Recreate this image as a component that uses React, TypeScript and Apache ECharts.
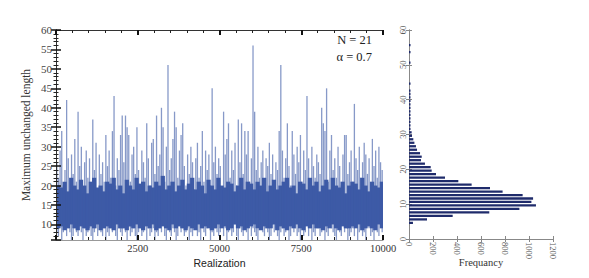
import React, { useEffect, useRef } from "react";
import * as echarts from "echarts";

// Left panel: per-block (50 realizations) maximum and minimum of the series
const blockHighs = [
  26, 22, 29, 34, 20, 24, 42, 27, 19, 28,
  23, 32, 21, 39, 25, 30, 18, 26, 29, 22,
  27, 20, 37, 24, 31, 19, 28, 23, 26, 21,
  33, 25, 29, 22, 34, 43, 20, 27, 24, 33,
  38, 26, 38, 35, 33, 21, 28, 30, 23, 35,
  24, 19, 29, 26, 22, 36, 27, 20, 31, 32,
  23, 38, 25, 28, 40, 35, 21, 30, 51, 24,
  27, 32, 39, 35, 22, 29, 33, 36, 25, 20,
  28, 23, 30, 26, 19, 27, 31, 22, 25, 34,
  21, 29, 24, 28, 20, 45, 26, 30, 23, 27,
  25, 19, 39, 28, 32, 36, 22, 29, 24, 31,
  20, 37, 26, 36, 23, 34, 28, 34, 21, 27,
  56, 39, 24, 30, 22, 26, 29, 19, 27, 25,
  31, 23, 28, 21, 26, 24, 34, 51, 29, 22,
  27, 36, 25, 20, 34, 28, 23, 30, 26, 33,
  21, 29, 24, 43, 27, 19, 30, 25, 22, 28,
  26, 23, 40, 36, 34, 45, 21, 29, 33, 24,
  27, 22, 30, 25, 20, 28, 33, 33, 23, 26,
  29, 21, 41, 27, 24, 30, 22, 26, 31, 28,
  23, 27, 20, 32, 25, 29, 22, 30, 26, 24,
];
const blockLows = [
  8, 7, 9, 6, 8, 10, 7, 9, 8, 6, 7, 9, 8, 7, 10, 8, 6, 9, 7, 8,
  9, 7, 6, 8, 9, 7, 10, 8, 7, 9, 6, 8, 7, 9, 8, 10, 7, 6, 9, 8,
  7, 9, 8, 6, 10, 7, 8, 9, 7, 6, 8, 9, 7, 8, 10, 6, 9, 7, 8, 9,
  6, 8, 7, 9, 8, 10, 7, 6, 9, 8, 7, 9, 8, 6, 7, 10, 8, 9, 7, 8,
  9, 6, 8, 7, 10, 9, 7, 8, 6, 9, 8, 7, 9, 10, 6, 8, 7, 9, 8, 7,
  8, 10, 7, 9, 6, 8, 9, 7, 8, 10, 7, 6, 9, 8, 7, 9, 8, 6, 10, 7,
  9, 8, 7, 6, 9, 10, 8, 7, 9, 8, 6, 7, 10, 8, 9, 7, 6, 8, 9, 7,
  8, 9, 6, 7, 10, 8, 9, 7, 8, 6, 9, 7, 8, 10, 7, 9, 6, 8, 7, 9,
  10, 7, 8, 9, 6, 8, 7, 10, 9, 8, 7, 6, 9, 8, 7, 10, 8, 9, 6, 7,
  8, 9, 7, 10, 6, 8, 9, 7, 8, 6, 10, 9, 7, 8, 6, 9, 8, 7, 10, 8,
];
// Dense core of the series per block of 100 realizations (top and bottom of the solid band)
const bandTops = [
  20, 19.5, 21, 18.5, 22, 20, 19, 21.5, 20, 18,
  21, 22, 19.5, 20, 18.5, 21, 20.5, 22, 19, 20,
  18, 21.5, 20, 19, 22, 20.5, 21, 18.5, 20, 19.5,
  21, 20, 22.5, 19, 20, 21, 18.5, 20, 21.5, 19,
  20.5, 22, 19, 21, 20, 18, 21.5, 20, 19, 22,
  20, 19.5, 21, 20.5, 18.5, 20, 22, 19, 21, 20.5,
  19, 21, 20, 22, 18.5, 20, 21.5, 19, 20, 21,
  22, 19.5, 20, 18, 21, 20.5, 19, 22, 20, 21,
  18.5, 20, 21.5, 19, 22, 20, 19.5, 21, 18, 20,
  21, 20.5, 19, 22, 20, 18.5, 21, 20, 19.5, 21,
];
const bandBottoms = [
  9, 9.5, 8.5, 9, 10, 9, 8.5, 9.5, 9, 8.5,
  9.5, 9, 10, 8.5, 9, 9.5, 9, 8.5, 10, 9,
  9, 8.5, 9.5, 9, 10, 9, 8.5, 9.5, 9, 10,
  8.5, 9, 9.5, 9, 8.5, 10, 9, 9.5, 9, 8.5,
  9.5, 9, 8.5, 10, 9, 9.5, 9, 8.5, 9, 10,
  9, 9.5, 8.5, 9, 10, 9, 9.5, 8.5, 9, 9.5,
  10, 9, 8.5, 9.5, 9, 9, 10, 8.5, 9.5, 9,
  8.5, 9.5, 9, 10, 9, 8.5, 9.5, 9, 10, 9,
  9, 8.5, 9.5, 9, 10, 9, 8.5, 9.5, 9, 9,
  9.5, 9, 10, 8.5, 9, 9.5, 9, 8.5, 10, 9,
];

// Right panel: histogram of the maximum unchanged length
const histLengths = [
  5, 6, 7, 8, 9, 10, 11, 12, 13, 14, 15, 16, 17, 18, 19, 20, 21, 22, 23, 24,
  25, 26, 27, 28, 29, 30, 31, 32, 33, 34, 35, 36, 37, 38, 39, 40, 41, 42, 43,
  45, 51, 54, 56,
];
const histCounts = [
  33, 150, 364, 669, 920, 1058, 1020, 1034, 947, 780, 675, 522, 411, 300, 225,
  189, 181, 133, 100, 106, 92, 67, 58, 45, 36, 25, 22, 12, 8, 6, 5, 4, 3, 3, 2,
  2, 2, 1, 1, 1, 2, 1, 1,
];

const realizationTicks = [2500, 5000, 7500, 10000];
const lengthTicks = [10, 15, 20, 25, 30, 35, 40, 45, 50, 55, 60];
const freqTicks = [0, 200, 400, 600, 800, 1000, 1200];
const histLengthTicks = [0, 10, 20, 30, 40, 50, 60];

const SERIF = "'Liberation Serif', 'DejaVu Serif', serif";
const SANS = "'Liberation Sans', Arial, sans-serif";
const BLUE = "#3e5ba7";

export default function App() {
  const ref = useRef<HTMLDivElement>(null);
  useEffect(() => {
    if (!ref.current) return;
    const chart = echarts.init(ref.current, undefined, { renderer: "svg" });
    const total = 10000;
    const step = total / blockHighs.length;
    const spikeData = blockHighs.map((h, i) => [i * step + step / 2, blockLows[i], h]);
    const bandStep = total / bandTops.length;
    const bandData = bandTops.map((t, i) => [i * bandStep, (i + 1) * bandStep, bandBottoms[i], t]);
    const histData = histLengths.map((v, i) => [histCounts[i], v]);

    const tickStyle = { color: "#222", width: 1 };
    chart.setOption({
      animation: false,
      backgroundColor: "#fff",
      grid: [
        { left: 56, top: 30, width: 327, height: 210 },
        { left: 409, top: 30, width: 144, height: 209 },
      ],
      xAxis: [
        {
          type: "value", gridIndex: 0, min: 0, max: 10000, interval: 2500, position: "bottom",
          axisLine: { show: true, lineStyle: { color: "#999", width: 1 } },
          axisTick: { show: true, inside: true, length: 5, lineStyle: { color: "#111", width: 2 } },
          minorTick: { show: true, splitNumber: 5, length: 3, lineStyle: tickStyle },
          splitLine: { show: false },
          axisLabel: {
            margin: 3, fontFamily: SERIF, fontSize: 10.5, color: "#333",
            formatter: (v: number) => (realizationTicks.includes(Math.round(v)) ? String(Math.round(v)) : ""),
          },
          name: "Realization", nameLocation: "middle", nameGap: 17, nameMoveOverlap: false,
          nameTextStyle: { fontFamily: SANS, fontSize: 10.5, color: "#222" },
          z: 5,
        },
        {
          type: "value", gridIndex: 0, min: 0, max: 10000, interval: 2500, position: "top",
          axisLine: { show: true, lineStyle: { color: "#333", width: 1 } },
          axisTick: { show: true, inside: true, length: 5, lineStyle: { color: "#111", width: 2 } },
          minorTick: { show: true, splitNumber: 5, length: 3, lineStyle: tickStyle },
          splitLine: { show: false }, axisLabel: { show: false }, z: 5,
        },
        {
          type: "value", gridIndex: 1, min: 0, max: 1200, interval: 200, position: "bottom",
          axisLine: { show: true, lineStyle: { color: "#888", width: 1 } },
          axisTick: { show: true, inside: true, length: 3, lineStyle: { color: "#888" } },
          splitLine: { show: false },
          axisLabel: {
            rotate: -90, margin: 3, fontFamily: SERIF, fontSize: 8.5, color: "#555",
            formatter: (v: number) => (freqTicks.includes(Math.round(v)) ? String(Math.round(v)) : ""),
          },
          name: "Frequancy", nameLocation: "middle", nameGap: 18, nameMoveOverlap: false,
          nameTextStyle: { fontFamily: SERIF, fontSize: 10.5, color: "#333" },
        },
        {
          type: "value", gridIndex: 1, min: 0, max: 1200, interval: 200, position: "top",
          axisLine: { show: true, lineStyle: { color: "#888", width: 1 } },
          axisTick: { show: true, inside: true, length: 3, lineStyle: { color: "#888" } },
          splitLine: { show: false }, axisLabel: { show: false },
        },
      ],
      yAxis: [
        {
          type: "value", gridIndex: 0, min: 6, max: 60, splitNumber: 11, position: "left",
          axisLine: { show: true, lineStyle: { color: "#333", width: 1 } },
          axisTick: { show: true, inside: true, length: 5, lineStyle: { color: "#111", width: 1.5 } },
          minorTick: { show: true, splitNumber: 5, length: 2.5, lineStyle: tickStyle },
          splitLine: { show: false },
          axisLabel: {
            margin: 4, fontFamily: SERIF, fontSize: 11, color: "#444",
            formatter: (v: number) => (lengthTicks.includes(Math.round(v * 1000) / 1000) ? String(Math.round(v)) : ""),
          },
          name: "Maximum unchanged length", nameLocation: "middle", nameGap: 24, nameRotate: 90,
          nameMoveOverlap: false,
          nameTextStyle: { fontFamily: SERIF, fontSize: 11.5, color: "#333" },
          z: 5,
        },
        {
          type: "value", gridIndex: 0, min: 6, max: 60, splitNumber: 11, position: "right",
          axisLine: { show: true, lineStyle: { color: "#333", width: 1 } },
          axisTick: { show: true, inside: true, length: 5, lineStyle: { color: "#111", width: 1.5 } },
          minorTick: { show: true, splitNumber: 5, length: 2.5, lineStyle: tickStyle },
          splitLine: { show: false }, axisLabel: { show: false }, z: 5,
        },
        {
          type: "value", gridIndex: 1, min: 0, max: 60, interval: 10, position: "left",
          axisLine: { show: true, lineStyle: { color: "#888", width: 1 } },
          axisTick: { show: true, inside: true, length: 3, lineStyle: { color: "#888" } },
          splitLine: { show: false },
          axisLabel: {
            rotate: 90, margin: 2, fontFamily: SERIF, fontSize: 8.5, color: "#555",
            formatter: (v: number) => (histLengthTicks.includes(Math.round(v)) ? String(Math.round(v)) : ""),
          },
        },
        {
          type: "value", gridIndex: 1, min: 0, max: 60, interval: 10, position: "right",
          axisLine: { show: true, lineStyle: { color: "#888", width: 1 } },
          axisTick: { show: true, inside: true, length: 3, lineStyle: { color: "#888" } },
          splitLine: { show: false }, axisLabel: { show: false },
        },
      ],
      series: [
        {
          type: "custom", xAxisIndex: 0, yAxisIndex: 0, data: bandData, clip: true, z: 1,
          renderItem: (params: any, api: any) => {
            const a = api.coord([api.value(0), api.value(3)]);
            const b = api.coord([api.value(1), api.value(2)]);
            return {
              type: "rect",
              shape: { x: a[0], y: a[1], width: b[0] - a[0] + 1, height: b[1] - a[1] },
              style: { fill: BLUE },
            };
          },
        },
        {
          type: "custom", xAxisIndex: 0, yAxisIndex: 0, data: spikeData, clip: true, z: 2,
          renderItem: (params: any, api: any) => {
            const a = api.coord([api.value(0), api.value(1)]);
            const b = api.coord([api.value(0), api.value(2)]);
            return {
              type: "line",
              shape: { x1: a[0], y1: a[1], x2: b[0], y2: b[1] },
              style: { stroke: BLUE, lineWidth: 1.3, opacity: 0.62 },
            };
          },
        },
        {
          type: "custom", xAxisIndex: 2, yAxisIndex: 2, data: histData, clip: true,
          renderItem: (params: any, api: any) => {
            const c = api.value(0);
            const v = api.value(1);
            const p0 = api.coord([0, v - 0.05]);
            const p1 = api.coord([c, v - 0.7]);
            return {
              type: "rect",
              shape: { x: p0[0], y: p0[1], width: Math.max(p1[0] - p0[0], 1.5), height: p1[1] - p0[1] },
              style: { fill: "#1f2b6b" },
            };
          },
        },
      ],
      graphic: [
        { type: "text", x: 372, y: 40, style: { text: "N = 21", font: `12.5px ${SERIF}`, fill: "#222", align: "right", verticalAlign: "middle" } },
        { type: "text", x: 372, y: 57, style: { text: "α = 0.7", font: `12.5px ${SERIF}`, fill: "#222", align: "right", verticalAlign: "middle" } },
      ],
    });
    return () => chart.dispose();
  }, []);
  return <div ref={ref} style={{ position: "absolute", left: 0, top: 0, width: 589, height: 278 }} />;
}
